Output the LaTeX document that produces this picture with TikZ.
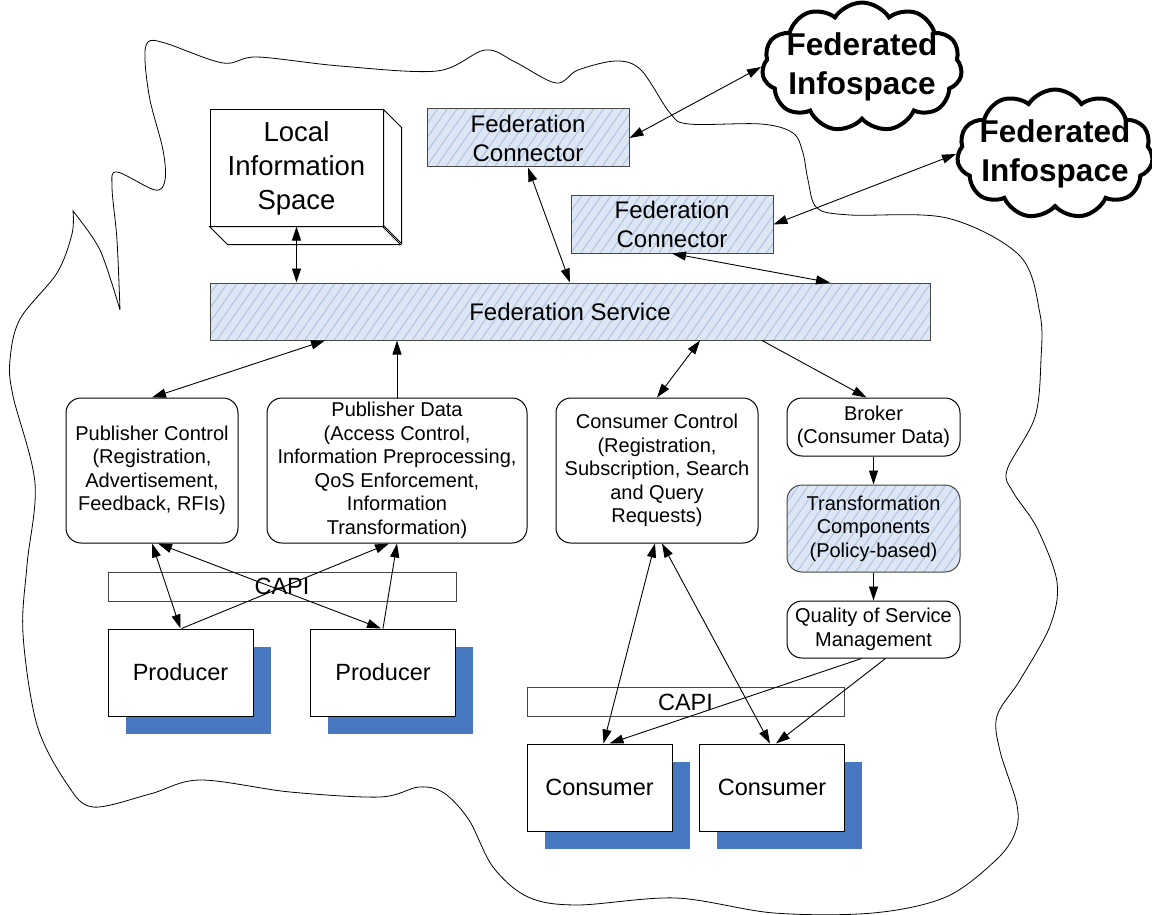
\documentclass[tikz,border=0pt]{standalone}
\usepackage{fontspec}
\setmainfont{Liberation Sans}
\usetikzlibrary{arrows.meta,shapes.symbols,patterns.meta,backgrounds}

\definecolor{infocolor0000}{RGB}{255,255,255}
\definecolor{infocolor0001}{RGB}{0,0,0}
\definecolor{infocolor0002}{RGB}{221,230,243}
\definecolor{infocolor0003}{RGB}{178,199,230}
\definecolor{infocolor0004}{RGB}{72,120,192}
\definecolor{infocolor0005}{RGB}{70,70,70}

\newcommand{\fsmall}{\fontsize{20}{23.5}\selectfont}
\newcommand{\fmid}{\fontsize{24}{29}\selectfont}
\newcommand{\fbig}{\fontsize{27.5}{34}\selectfont}
\newcommand{\funit}{\fontsize{23.5}{28}\selectfont}
\newcommand{\fcloud}{\fontsize{31.5}{39}\selectfont\bfseries}

\begin{document}
\begin{tikzpicture}[yscale=-1,>={Triangle[length=14pt,width=9pt]}
,pstyle0/.style={draw=infocolor0001,fill=infocolor0000,line width=1pt,inner sep=0pt,align=center}
,pstyle1/.style={draw=infocolor0005,line width=1pt,inner sep=0pt,align=center,preaction={fill=infocolor0002},pattern={Lines[angle=55,distance=8pt,line width=1.1pt]},pattern color=infocolor0003}
,pstyle2/.style={pstyle0,rounded corners=15pt}
,pstyle3/.style={fill=infocolor0004}
,pstyle4/.style={color=infocolor0001,line width=0.9pt}
,pstyle5/.style={draw=infocolor0005,fill=infocolor0000,line width=1pt,inner sep=0pt}
,pstyle6/.style={cloud,cloud puffs=11,cloud puff arc=115,aspect=1.8,draw=infocolor0001,fill=infocolor0000,line width=4pt,inner sep=-9pt,align=center,font=\fcloud}
]
\useasboundingbox (0pt,0pt) rectangle (1152pt,915pt);
% infospace boundary
\draw[pstyle4,line width=0.8pt] plot[smooth,tension=0.55] coordinates {(120pt,310pt) (117pt,240pt) (112pt,187pt) (117pt,172pt) (155pt,190pt) (165pt,180pt) (163pt,150pt) (150pt,100pt) (145pt,60pt) (148pt,42pt) (165pt,43pt) (223pt,63pt) (257pt,57pt) (340pt,66pt) (437pt,71pt) (485pt,50pt) (515pt,62pt) (556pt,83pt) (578pt,70pt) (616pt,61pt) (641pt,70pt) (670pt,113pt) (689pt,124pt) (761pt,124pt) (793pt,133pt) (803pt,153pt) (808pt,180pt) (817pt,208pt) (850pt,215pt) (947pt,218pt) (1020pt,256pt) (1040pt,314pt) (1041pt,359pt) (1035pt,417pt) (1007pt,470pt) (1013pt,492pt) (1037pt,528pt) (1057pt,582pt) (1050pt,626pt) (1020pt,680pt) (997pt,716pt) (1000pt,751pt) (1017pt,805pt) (1015pt,833pt) (996pt,860pt) (946pt,897pt) (873pt,913pt) (774pt,913pt) (676pt,898pt) (577pt,905pt) (528pt,897pt) (493pt,867pt) (469pt,820pt) (444pt,793pt) (419pt,787pt) (380pt,797pt) (290pt,792pt) (200pt,780pt) (150pt,794pt) (93pt,807pt) (67pt,784pt) (37pt,725pt) (23pt,634pt) (27pt,565pt) (35pt,483pt) (13pt,396pt) (10pt,360pt) (20pt,319pt) (57pt,273pt) (72pt,234pt) (73pt,211pt)}
 -- plot[smooth] coordinates {(73pt,211pt) (100pt,250pt) (120pt,310pt)};
% boxes
\node[pstyle0,font=\fbig,minimum width=173pt,minimum height=116pt] (lis) at (296.5pt,168pt) {Local\\Information\\Space};
\draw[pstyle0] (lis.north east) -- ++(18pt,18pt) -- ++(0,116pt) -- ++(-18pt,-18pt) -- cycle;
\draw[pstyle0] (lis.south west) -- ++(18pt,18pt) -- ++(173pt,0) -- ++(-18pt,-18pt) -- cycle;
\node[pstyle1,font=\fmid,minimum width=202pt,minimum height=58pt] (fc1) at (528pt,138pt) {Federation\\Connector};
\node[pstyle1,font=\fmid,minimum width=202pt,minimum height=57pt] (fc2) at (672pt,224.5pt) {Federation\\Connector};
\node[pstyle1,font=\fmid,minimum width=720pt,minimum height=57pt] (fs) at (570pt,311.5pt) {Federation Service};
\node[pstyle2,font=\fsmall,minimum width=172pt,minimum height=145pt] (pubctl) at (152pt,470.5pt) {Publisher Control\\(Registration,\\Advertisement,\\Feedback, RFIs)};
\node[pstyle2,font=\fsmall,minimum width=260pt,minimum height=145pt] (pubdata) at (397pt,470.5pt) {Publisher Data\\(Access Control,\\Information Preprocessing,\\QoS Enforcement,\\Information\\Transformation)};
\node[pstyle2,font=\fsmall,minimum width=202pt,minimum height=145pt] (conctl) at (657pt,470.5pt) {Consumer Control\\(Registration,\\Subscription, Search\\and Query\\Requests)};
\node[pstyle2,font=\fsmall,minimum width=173pt,minimum height=58pt] (broker) at (873.5pt,427pt) {Broker\\(Consumer Data)};
\node[pstyle1,rounded corners=15pt,font=\fsmall,minimum width=173pt,minimum height=87pt] (transf) at (873.5pt,528.5pt) {Transformation\\Components\\(Policy-based)};
\node[pstyle2,font=\fsmall,minimum width=173pt,minimum height=57pt] (qos) at (873.5pt,629.5pt) {Quality of Service\\Management};
\node[pstyle5,font=\funit,minimum width=348pt,minimum height=29pt] (capi1) at (282pt,586.5pt) {CAPI};
\node[pstyle5,font=\funit,minimum width=317pt,minimum height=29pt] (capi2) at (685.5pt,702pt) {CAPI};
\node[pstyle0,font=\funit,minimum width=145pt,minimum height=87pt] (prod1) at (180.5pt,672.5pt) {Producer};
\node[pstyle0,font=\funit,minimum width=145pt,minimum height=87pt] (prod2) at (383pt,672.5pt) {Producer};
\node[pstyle0,font=\funit,minimum width=145pt,minimum height=87pt] (cons1) at (599.5pt,787.5pt) {Consumer};
\node[pstyle0,font=\funit,minimum width=145pt,minimum height=87pt] (cons2) at (772pt,787.5pt) {Consumer};
\begin{scope}[on background layer]
\fill[pstyle3] (prod1.north west) ++(18pt,18pt) rectangle ++(145pt,87pt);
\fill[pstyle3] (prod2.north west) ++(18pt,18pt) rectangle ++(145pt,87pt);
\fill[pstyle3] (cons1.north west) ++(18pt,18pt) rectangle ++(145pt,87pt);
\fill[pstyle3] (cons2.north west) ++(18pt,18pt) rectangle ++(145pt,87pt);
\end{scope}
% connectors
\draw[pstyle4,<->] (lis.south) -- (lis.south |- fs.north);
\draw[pstyle4,<->] (fc1.south) -- (fs.north);
\draw[pstyle4,<->] (fc2.south) -- ([xshift=260pt]fs.north);
\draw[pstyle4,<->] ([xshift=-245pt]fs.south) -- (pubctl.north);
\draw[pstyle4,->] (pubdata.north) -- (pubdata.north |- fs.south);
\draw[pstyle4,<->] ([xshift=130pt]fs.south) -- (conctl.north);
\draw[pstyle4,->] ([xshift=192pt]fs.south) -- ([xshift=-7pt]broker.north);
\draw[pstyle4,->] (broker.south) -- (transf.north);
\draw[pstyle4,->] (transf.south) -- (qos.north);
\draw[pstyle4,<->] (pubctl.south) -- (prod1.north);
\draw[pstyle4,<->] ([xshift=6pt]pubctl.south) -- ([xshift=-2pt]prod2.north);
\draw[pstyle4,->] ([xshift=1pt]prod1.north) -- ([xshift=-8pt]pubdata.south);
\draw[pstyle4,->] (prod2.north) -- (pubdata.south);
\draw[pstyle4,<->] ([xshift=-2pt]conctl.south) -- ([xshift=4pt]cons1.north);
\draw[pstyle4,<->] ([xshift=5pt]conctl.south) -- ([xshift=-2pt]cons2.north);
\draw[pstyle4,->] ([xshift=-12pt]qos.south) -- ([xshift=10pt]cons1.north);
\draw[pstyle4,->] ([xshift=12pt]qos.south) -- ([xshift=4pt]cons2.north);
% federated infospaces
\node[pstyle6,minimum width=200pt,minimum height=112pt] (cloud1) at (862pt,67pt) {Federated\\Infospace};
\node[pstyle6,minimum width=192pt,minimum height=102pt] (cloud2) at (1055pt,154pt) {Federated\\Infospace};
\draw[pstyle4,<->] (fc1.east) -- (cloud1.west);
\draw[pstyle4,<->] (fc2.east) -- (cloud2.west);
\end{tikzpicture}
\end{document}
